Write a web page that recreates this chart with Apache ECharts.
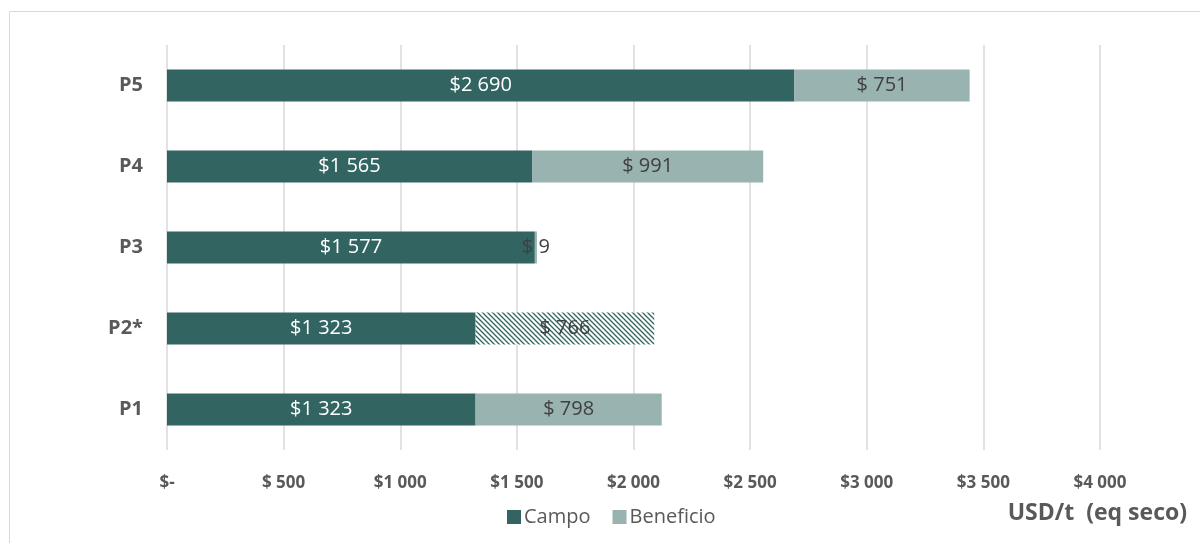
<!DOCTYPE html>
<html>
<head>
<meta charset="utf-8">
<script src="https://cdn.jsdelivr.net/npm/echarts@6/dist/echarts.min.js"></script>
<style>
  html, body { margin: 0; padding: 0; background: #fff; }
  #chart { width: 1200px; height: 543px; }
</style>
</head>
<body>
<div id="chart"></div>
<script>
// Cost per tonne (dry equivalent) by process
const categories = ['P1', 'P2*', 'P3', 'P4', 'P5'];
const campo = [1323, 1323, 1577, 1565, 2690];
const beneficio = [798, 766, 9, 991, 751];
// index of the estimated (hatched) Beneficio bar
const hatchedIndex = 1;
const xTicks = [0, 500, 1000, 1500, 2000, 2500, 3000, 3500, 4000];

const DARK = '#326562';
const LIGHT = '#98b3b0';
const TEXT = '#595959';
const FONT = '"Open Sans", Lato, sans-serif';

function money(v) {
  if (v === 0) return '$-';
  const s = String(Math.round(v)).replace(/\B(?=(\d{3})+(?!\d))/g, ' ');
  return v < 1000 ? '$ ' + s : '$' + s;
}

// diagonal hatch tile
function hatchPattern() {
  const size = 5;
  const c = document.createElement('canvas');
  c.width = size; c.height = size;
  const ctx = c.getContext('2d');
  ctx.fillStyle = '#ffffff';
  ctx.fillRect(0, 0, size, size);
  ctx.strokeStyle = DARK;
  ctx.lineWidth = 1.3;
  ctx.beginPath();
  ctx.moveTo(-1, -1); ctx.lineTo(size + 1, size + 1);
  ctx.moveTo(-1, size - 1); ctx.lineTo(1, size + 1);
  ctx.moveTo(size - 1, -1); ctx.lineTo(size + 1, 1);
  ctx.stroke();
  return c;
}

const beneficioData = beneficio.map((v, i) => i === hatchedIndex
  ? { value: v, itemStyle: { color: { image: hatchPattern(), repeat: 'repeat' } } }
  : v);

const chart = echarts.init(document.getElementById('chart'));
chart.setOption({
  animation: false,
  grid: { left: 167, right: 100, top: 45, bottom: 93 },
  legend: {
    left: 502, top: 502,
    itemWidth: 14, itemHeight: 14, itemGap: 22,
    icon: 'rect',
    textStyle: { color: TEXT, fontFamily: FONT, fontSize: 20, padding: [0, 0, 0, -2] },
    data: ['Campo', 'Beneficio']
  },
  xAxis: {
    type: 'value',
    min: 0, max: 4000, interval: 500,
    axisLine: { show: false },
    axisTick: { show: false },
    splitLine: { lineStyle: { color: '#d9d9d9', width: 1.5 } },
    axisLabel: {
      margin: 25,
      color: TEXT, fontFamily: FONT, fontWeight: 'bold', fontSize: 17,
      formatter: v => xTicks.includes(v) ? money(v) : ''
    }
  },
  yAxis: {
    type: 'category',
    data: categories,
    axisLine: { show: false },
    axisTick: { show: false },
    axisLabel: {
      margin: 24,
      color: TEXT, fontFamily: FONT, fontWeight: 'bold', fontSize: 20
    }
  },
  series: [
    {
      name: 'Campo', type: 'bar', stack: 'total',
      barWidth: 32,
      itemStyle: { color: DARK },
      label: {
        show: true, position: 'inside',
        color: '#ffffff', fontFamily: FONT, fontSize: 20,
        formatter: p => money(p.value)
      },
      data: campo
    },
    {
      name: 'Beneficio', type: 'bar', stack: 'total',
      barWidth: 32,
      itemStyle: { color: LIGHT },
      label: {
        show: true, position: 'inside',
        color: '#404040', fontFamily: FONT, fontSize: 20,
        formatter: p => money(p.value)
      },
      labelLayout: { hideOverlap: false },
      data: beneficioData
    }
  ],
  graphic: [
    {
      type: 'rect', silent: true, z: -1,
      shape: { x: 9.5, y: 11.5, width: 1300, height: 700 },
      style: { fill: 'none', stroke: '#d9d9d9', lineWidth: 1 }
    },
    {
      type: 'text', right: 13, top: 502,
      style: {
        text: 'USD/t  (eq seco)',
        fill: TEXT, font: 'bold 23px ' + FONT
      }
    }
  ]
});
</script>
</body>
</html>
